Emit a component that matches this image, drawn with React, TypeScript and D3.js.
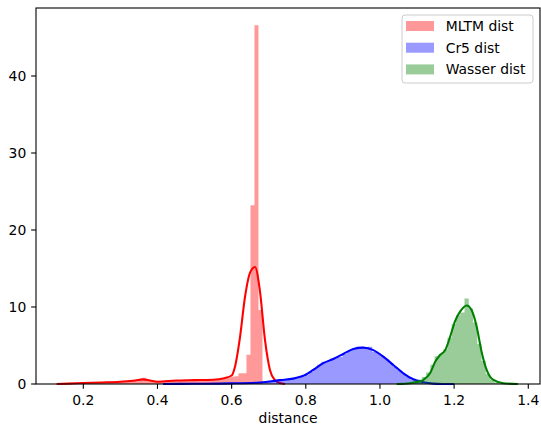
import React from "react";
import { scaleLinear, line, curveMonotoneX } from "d3";

// histogram bins: start, width, heights (density)
const mltmStart = 0.1864;
const mltmWidth = 0.0108;
const mltmHist = [
  0.1, 0.12, 0.15, 0.15, 0.18, 0.2, 0.2, 0.25, 0.25, 0.28,
  0.3, 0.3, 0.35, 0.4, 0.5, 0.55, 0.8, 0.5, 0.35, 0.3,
  0.3, 0.35, 0.4, 0.45, 0.5, 0.5, 0.55, 0.5, 0.5, 0.55,
  0.5, 0.5, 0.55, 0.55, 0.6, 0.6, 0.7, 0.8, 0.95, 1.0,
  1.4, 1.4, 3.8, 23.2, 46.6, 9.6,
];

const cr5Start = 0.66;
const cr5Width = 0.0114;
const cr5Hist = [
  0.15, 0.2, 0.25, 0.3, 0.35, 0.45, 0.5, 0.55, 0.65, 0.7,
  0.85, 0.95, 1.2, 1.6, 2.0, 2.5, 2.9, 3.0, 3.3, 3.5,
  3.5, 3.9, 4.3, 4.5, 4.85, 4.85, 4.8, 4.85, 4.2, 4.0,
  3.6, 3.2, 2.7, 2.2, 1.8, 1.3, 0.9, 0.6, 0.35, 0.15,
];

const wasserStart = 1.09;
const wasserWidth = 0.0115;
const wasserHist = [
  0.5, 0.6, 0.9, 1.5, 2.5, 3.6, 3.9, 4.5, 6.0, 7.8,
  8.9, 9.3, 11.1, 9.8, 8.0, 5.2, 3.0, 1.3, 0.6, 0.2,
];

// kde curves
const mltmKdeX = [0.128, 0.16, 0.2, 0.25, 0.3, 0.34, 0.36, 0.38, 0.4, 0.45, 0.5, 0.55, 0.58, 0.6, 0.609, 0.6226, 0.636, 0.65, 0.663, 0.676, 0.69, 0.7035, 0.717, 0.73, 0.744];
const mltmKdeY = [0, 0.05, 0.12, 0.2, 0.3, 0.45, 0.6, 0.45, 0.3, 0.45, 0.5, 0.55, 0.75, 1.1, 2.25, 6.1, 11.3, 14.5, 15.2, 12.2, 5.7, 1.8, 0.5, 0.12, 0];

const cr5KdeX = [0.415, 0.5, 0.6, 0.676, 0.731, 0.766, 0.785, 0.798, 0.82, 0.847, 0.874, 0.901, 0.928, 0.955, 0.982, 1.009, 1.036, 1.063, 1.09, 1.117, 1.144, 1.17, 1.2];
const cr5KdeY = [0, 0.03, 0.08, 0.2, 0.5, 0.7, 0.95, 1.17, 1.82, 2.7, 3.25, 3.9, 4.55, 4.72, 4.4, 3.55, 2.47, 1.39, 0.61, 0.22, 0.05, 0.01, 0];

const wasserKdeX = [1.045, 1.08, 1.1, 1.117, 1.135, 1.149, 1.162, 1.176, 1.189, 1.202, 1.216, 1.234, 1.247, 1.261, 1.274, 1.288, 1.306, 1.333, 1.372];
const wasserKdeY = [0, 0.1, 0.25, 0.52, 1.39, 2.9, 3.77, 4.4, 6.1, 8.1, 9.4, 10.2, 9.6, 7.4, 4.2, 1.8, 0.52, 0.1, 0];

const xTicks = [0.2, 0.4, 0.6, 0.8, 1.0, 1.2, 1.4];
const xTickLabels = ["0.2", "0.4", "0.6", "0.8", "1.0", "1.2", "1.4"];
const yTicks = [0, 10, 20, 30, 40];
const yTickLabels = ["0", "10", "20", "30", "40"];

const seriesNames = ["MLTM dist", "Cr5 dist", "Wasser dist"];
const seriesColors = ["#ff0000", "#0000ff", "#008000"];

const W = 541;
const H = 427;
const left = 36, right = 540, top = 8, bottom = 384;
const font = "DejaVu Sans, sans-serif";
const fs = 13.9;

export default function App() {
  const x = scaleLinear().domain([0.0724, 1.4316]).range([left, right]);
  const y = scaleLinear().domain([0, 48.83]).range([bottom, top]);

  const series = [
    { start: mltmStart, width: mltmWidth, hist: mltmHist, kx: mltmKdeX, ky: mltmKdeY },
    { start: cr5Start, width: cr5Width, hist: cr5Hist, kx: cr5KdeX, ky: cr5KdeY },
    { start: wasserStart, width: wasserWidth, hist: wasserHist, kx: wasserKdeX, ky: wasserKdeY },
  ];

  const kdeLine = line<[number, number]>()
    .x(d => x(d[0]))
    .y(d => y(d[1]))
    .curve(curveMonotoneX);

  // one step outline per histogram, so adjacent bars leave no seams
  const histPath = (start: number, width: number, hist: number[]) => {
    let d = `M${x(start)},${y(0)}`;
    hist.forEach((v, i) => {
      const x0 = start + i * width;
      d += `L${x(x0)},${y(v)}L${x(x0 + width)},${y(v)}`;
    });
    d += `L${x(start + hist.length * width)},${y(0)}Z`;
    return d;
  };

  const tick = 4.86;

  return (
    <svg width={W} height={H} style={{ position: "absolute", left: 0, top: 0, background: "#fff" }}>
      <rect x={0} y={0} width={W} height={H} fill="#fff" />
      {series.map((s, si) => (
        <g key={si}>
          <path d={histPath(s.start, s.width, s.hist)} fill={seriesColors[si]} fillOpacity={0.4} />
          <path
            d={kdeLine(s.kx.map((v, i) => [v, s.ky[i]] as [number, number])) || ""}
            fill="none"
            stroke={seriesColors[si]}
            strokeWidth={2.08}
            strokeLinejoin="round"
          />
        </g>
      ))}

      {/* spines */}
      <rect x={left} y={top} width={right - left} height={bottom - top} fill="none" stroke="#000" strokeWidth={1.1} />

      {/* x axis */}
      {xTicks.map((t, i) => (
        <g key={i}>
          <line x1={x(t)} x2={x(t)} y1={bottom} y2={bottom + tick} stroke="#000" strokeWidth={1.1} />
          <text x={x(t)} y={405} textAnchor="middle" fontFamily={font} fontSize={fs} fill="#000">
            {xTickLabels[i]}
          </text>
        </g>
      ))}
      <text x={(left + right) / 2} y={423} textAnchor="middle" fontFamily={font} fontSize={fs} fill="#000">
        distance
      </text>

      {/* y axis */}
      {yTicks.map((t, i) => (
        <g key={i}>
          <line x1={left - tick} x2={left} y1={y(t)} y2={y(t)} stroke="#000" strokeWidth={1.1} />
          <text x={left - tick - 4.86} y={y(t)} dy="0.36em" textAnchor="end" fontFamily={font} fontSize={fs} fill="#000">
            {yTickLabels[i]}
          </text>
        </g>
      ))}

      {/* legend */}
      <rect x={402} y={15} width={131} height={68} rx={3} fill="#fff" fillOpacity={0.8} stroke="#cccccc" strokeWidth={1} />
      {seriesNames.map((n, i) => {
        const cy = 26 + i * 21.7;
        return (
          <g key={i}>
            <rect x={406} y={cy - 5} width={28} height={10} fill={seriesColors[i]} fillOpacity={0.4} />
            <text x={445.7} y={cy} dy="0.36em" fontFamily={font} fontSize={fs} fill="#000">
              {n}
            </text>
          </g>
        );
      })}
    </svg>
  );
}
